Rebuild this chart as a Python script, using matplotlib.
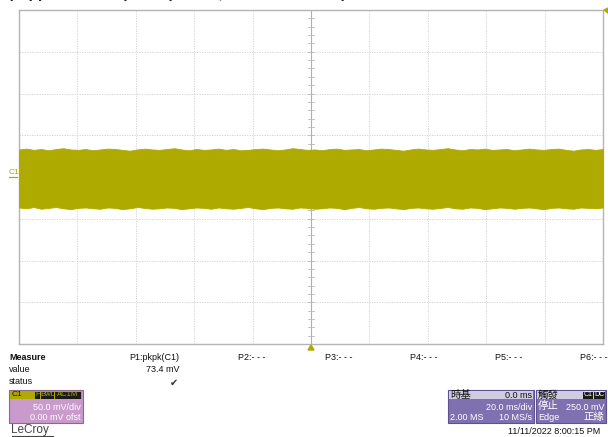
# Captura de osciloscópio LeCroy: ondulação na saída (C1, acoplamento AC)
import numpy as np
import matplotlib.pyplot as plt
from matplotlib.patches import Rectangle

plt.rcParams['font.family'] = ['Liberation Sans', 'Noto Sans CJK TC', 'DejaVu Sans']

# escala do osciloscópio
ms_por_div = 20.0
mv_por_div = 50.0
n_div_x = 10
n_div_y = 8

env_sup = [33.0, 34.0, 32.5, 33.5, 32.0, 33.5, 34.5, 33.0, 32.5, 33.5,
           32.0, 33.0, 34.0, 33.5, 32.5, 31.5, 33.0, 34.0, 33.0, 32.5,
           33.5, 34.5, 33.0, 32.0, 33.5, 32.5, 33.0, 34.0, 32.5, 33.5,
           32.0, 32.5, 33.5, 34.0, 33.0, 32.0, 33.0, 34.5, 33.5, 32.5,
           33.0, 32.0, 33.5, 34.0, 32.5, 33.0, 33.5, 32.0, 33.0, 34.0,
           33.5, 32.5, 31.5, 33.0, 34.0, 33.0, 32.5, 33.5, 34.5, 33.0,
           32.0, 33.5, 33.0, 34.0, 32.5, 33.0, 33.5, 32.0, 33.0, 34.0,
           33.0, 32.5, 33.5, 34.0, 32.5, 31.5, 33.0, 33.5, 32.5, 33.5]
env_inf = [-36.5, -37.5, -36.0, -38.0, -37.0, -36.0, -37.5, -38.5, -37.0, -36.5,
           -37.5, -38.0, -36.5, -37.0, -38.5, -37.5, -36.0, -37.0, -38.0, -37.5,
           -36.5, -37.0, -38.5, -37.5, -36.5, -37.0, -38.0, -36.5, -37.5, -38.0,
           -37.0, -36.0, -37.5, -38.5, -37.0, -36.5, -37.5, -38.0, -36.5, -37.0,
           -38.0, -37.5, -36.5, -37.0, -38.5, -37.0, -36.0, -37.5, -38.0, -37.0,
           -36.5, -37.5, -38.5, -37.0, -36.5, -37.5, -38.0, -37.0, -36.0, -37.5,
           -38.0, -36.5, -37.0, -38.5, -37.5, -36.5, -37.0, -38.0, -37.0, -36.5,
           -37.5, -38.5, -37.0, -36.5, -37.5, -38.0, -36.5, -37.0, -37.5, -36.5]

titulo = "(Ripple with output capacitor, 50 mV/div scale)"
rotulos_p = ["P2:- - -", "P3:- - -", "P4:- - -", "P5:- - -", "P6:- - -"]
pos_p = [238, 325, 410, 495, 580]

W, H = 608, 437
cor_sinal = '#AEAA00'
cor_grade = '#cfcfcf'

fig = plt.figure(figsize=(W / 100, H / 100), dpi=100)
fig.patch.set_facecolor('white')


def px(x, y):
    # coordenadas em pixels (origem no topo) -> fração da figura
    return x / W, 1 - y / H


def texto(x, y, s, **kw):
    kw.setdefault('fontsize', 6.5)
    kw.setdefault('va', 'center')
    fig.text(*px(x, y), s, **kw)


# título cortado no topo da captura (só a parte de baixo aparece)
texto(8, -6, titulo, fontsize=11, fontweight='bold', color='#222222')

# área da tela
x0, y0, x1, y1 = 19, 10, 603, 344
ax = fig.add_axes([x0 / W, 1 - y1 / H, (x1 - x0) / W, (y1 - y0) / H])
meio_x = ms_por_div * n_div_x / 2
meio_y = mv_por_div * n_div_y / 2
ax.set_xlim(-meio_x, meio_x)
ax.set_ylim(-meio_y, meio_y)
ax.set_xticks([])
ax.set_yticks([])
for s in ax.spines.values():
    s.set_color('#b4b4b4')
    s.set_linewidth(1.0)

for i in range(1, n_div_x):
    xv = -meio_x + i * ms_por_div
    if i == n_div_x // 2:
        ax.axvline(xv, color='#b0b0b0', lw=0.8, zorder=1)
    else:
        ax.axvline(xv, color=cor_grade, lw=0.6, ls=(0, (1.5, 1.5)), zorder=1)
for j in range(1, n_div_y):
    yv = -meio_y + j * mv_por_div
    if j == n_div_y // 2:
        ax.axhline(yv, color='#b0b0b0', lw=0.8, zorder=1)
    else:
        ax.axhline(yv, color=cor_grade, lw=0.6, ls=(0, (1.5, 1.5)), zorder=1)

# marcas menores no eixo central
for k in np.arange(-meio_y, meio_y + 0.1, mv_por_div / 5):
    ax.plot([-0.9, 0.9], [k, k], color='#b8b8b8', lw=0.6, zorder=1)
for k in np.arange(-meio_x, meio_x + 0.1, ms_por_div / 5):
    ax.plot([k, k], [-1.5, 1.5], color='#b8b8b8', lw=0.6, zorder=1)

t = np.linspace(-meio_x, meio_x, len(env_sup))
ax.fill_between(t, env_inf, env_sup, color=cor_sinal, lw=0.6,
                edgecolor=cor_sinal, zorder=3)

# marcador C1 e gatilho
texto(9, 172, "C1", fontsize=6, color=cor_sinal)
fig.add_artist(plt.Line2D([9 / W, 17 / W], [1 - 177 / H] * 2, color=cor_sinal, lw=0.9))
fig.add_artist(plt.Polygon([px(308, 350), px(314, 350), px(311, 345)],
                           closed=True, color=cor_sinal))
fig.add_artist(plt.Polygon([px(604, 10), px(608, 8), px(608, 13)],
                           closed=True, color=cor_sinal))

# painel de medidas
texto(9, 358, "Measure", fontweight='bold', color='#111111')
texto(9, 370, "value", color='#111111')
texto(9, 382, "status", color='#111111')
texto(179, 358, "P1:pkpk(C1)", ha='right', color='#111111')
texto(179, 370, "73.4 mV", ha='right', color='#111111')
texto(178, 383, "\u2714", ha='right', fontsize=7, color='#333333',
      family=['DejaVu Sans'])
for rot, xp in zip(rotulos_p, pos_p):
    texto(xp, 358, rot, color='#111111')


def caixa(x, y, w, h, cor, ec='none', lw=0.8):
    fx, fy = px(x, y + h)
    fig.add_artist(Rectangle((fx, fy), w / W, h / H, transform=fig.transFigure,
                             facecolor=cor, edgecolor=ec, lw=lw))


# descritor do canal C1
caixa(9, 390, 74, 33, '#C99ACB', ec='#8C6A8E')
caixa(10, 391, 72, 8, cor_sinal)
texto(12, 395, "C1", color='#111111', fontsize=6)
for rot, xb, wb in [("F", 35, 5), ("BwL", 41, 13), ("AC1M", 55, 26)]:
    caixa(xb, 391.5, wb, 7, '#1a1a1a')
    texto(xb + wb / 2, 395, rot, color=cor_sinal, fontsize=5.5, ha='center')
texto(81, 407, "50.0 mV/div", color='white', ha='right')
texto(81, 417, "0.00 mV ofst", color='white', ha='right')
texto(11, 430, "LeCroy", fontsize=8.5, color='#444444')
fig.add_artist(plt.Line2D([12 / W, 53 / W], [1 - 435.5 / H] * 2,
                          color='#444444', lw=0.8))

# base de tempo
caixa(448, 390, 86, 33, '#7F70B0', ec='#5E5190')
caixa(449, 391, 84, 8, '#CFCBE0')
texto(450, 395, "時基", color='#111111', fontsize=7.5)
texto(532, 395, "0.0 ms", color='#111111', ha='right')
texto(532, 407, "20.0 ms/div", color='white', ha='right')
texto(450, 417, "2.00 MS", color='white')
texto(532, 417, "10 MS/s", color='white', ha='right')

# gatilho
caixa(536, 390, 70, 33, '#7F70B0', ec='#5E5190')
caixa(537, 391, 68, 8, '#CFCBE0')
texto(538, 395, "觸發", color='#111111', fontsize=7.5)
caixa(583, 391.5, 10, 7, '#1a1a1a')
caixa(594, 391.5, 11, 7, '#1a1a1a')
texto(588, 395, "C1", color='white', fontsize=5, ha='center')
texto(599.5, 395, "DC", color='white', fontsize=5, ha='center')
texto(538, 406, "停止", color='white', fontsize=7.5)
texto(604, 407, "250.0 mV", color='white', ha='right')
texto(538, 417, "Edge", color='white')
texto(604, 417, "正緣", color='white', ha='right', fontsize=7.5)

texto(600, 431, "11/11/2022 8:00:15 PM", color='#111111', ha='right')

fig.savefig('out.png', dpi=100)
plt.close(fig)
